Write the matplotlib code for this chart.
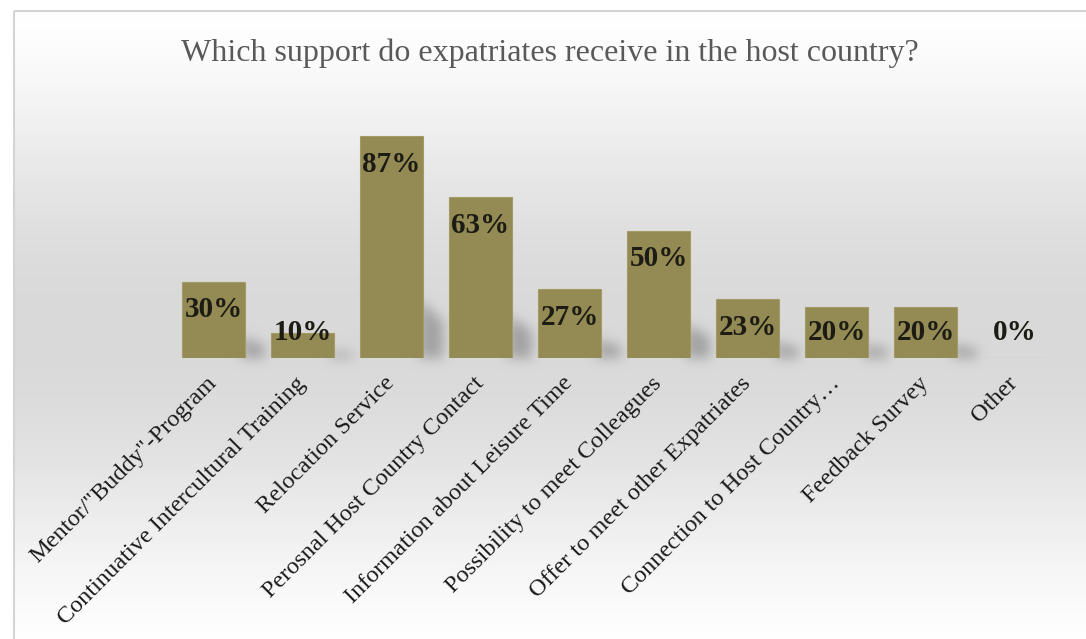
import numpy as np
import matplotlib
matplotlib.use("Agg")
import matplotlib.pyplot as plt
from matplotlib.patches import Rectangle

plt.rcParams['font.family'] = ['Liberation Serif', 'DejaVu Serif']

categories = ['Mentor/"Buddy"-Program', 'Continuative Intercultural Training',
              'Relocation Service', 'Perosnal Host Country Contact',
              'Information about Leisure Time', 'Possibility to meet Colleagues',
              'Offer to meet other Expatriates', 'Connection to Host Country\u2026',
              'Feedback Survey', 'Other']
percent = [30, 10, 87, 63, 27, 50, 23, 20, 20, 0]
title = 'Which support do expatriates receive in the host country?'

W, H = 1086, 639
bar_color = '#948a54'

fig = plt.figure(figsize=(W / 100, H / 100), dpi=100)
fig.patch.set_facecolor('white')

# background axes in pixel units
bg = fig.add_axes([0, 0, 1, 1], zorder=0)
bg.set_xlim(0, W)
bg.set_ylim(H, 0)
bg.axis('off')

ax = fig.add_axes([169 / W, (H - 358) / H, 890 / W, 255 / H], zorder=1)
ax.patch.set_alpha(0)
x = np.arange(len(categories))
ax.set_xlim(-0.5, len(categories) - 0.5)
ax.set_ylim(0, 100)

# vertical grey gradient inside the chart border
top, left = 10, 13
rows = np.arange(H)
t = np.clip((rows - top) / (650 - top), 0, 1)
grey = 255 - 38 * np.sin(np.pi * t) ** 1.5
img = np.tile(grey[:, None], (1, W)).astype(float)

# soft shadows cast to the right of each bar
mask = np.zeros((H, W))
bw = 0.71
for xi, v in zip(x, percent):
    if v <= 0:
        continue
    (xr, yb), = ax.transData.transform([(xi + bw / 2, 0)])
    (_, yt), = ax.transData.transform([(xi, v)])
    hpx = yt - yb
    rb = int(round(H - yb))
    c0, c1 = int(xr) - 4, int(xr) + 20
    for c in range(c0, c1):
        f = (c - c0) / (c1 - c0)
        hh = hpx * (0.26 - 0.1 * f)
        mask[int(rb - hh):rb, c] = 1.0

def blur(a, sigma):
    k = np.arange(-3 * sigma, 3 * sigma + 1)
    k = np.exp(-k ** 2 / (2 * sigma ** 2))
    k /= k.sum()
    a = np.apply_along_axis(lambda r: np.convolve(r, k, mode='same'), 1, a)
    a = np.apply_along_axis(lambda r: np.convolve(r, k, mode='same'), 0, a)
    return a

mask = blur(mask, 6)
img = img - 55 * mask
img[:top, :] = 255
img[:, :left] = 255
img = np.clip(img, 0, 255) / 255
bg.imshow(np.dstack([img] * 3), extent=[0, W, H, 0], aspect='auto', interpolation='bilinear')
bg.add_patch(Rectangle((left + 0.5, top + 0.5), W + 20, H + 20, fill=False,
                       ec='#d4d4d4', lw=1.5))

ax.bar(x, percent, width=bw, color=bar_color, edgecolor='#a39a66', linewidth=0.8, zorder=2)

for xi, v in zip(x, percent):
    ax.text(xi, max(v - 11, 10), f'{v}%', ha='center', va='center',
            fontsize=21, fontweight='bold', color='#1c1c14', zorder=3)

ax.set_xticks(x)
ax.set_xticklabels(categories, rotation=45, ha='right', va='center',
                   rotation_mode='anchor', fontsize=17.5, color='#1a1a1a')
ax.tick_params(axis='x', length=0, pad=16)
ax.set_yticks([])
for s in ax.spines.values():
    s.set_visible(False)

fig.text(550 / W, 1 - 53 / H, title, ha='center', va='center',
         fontsize=23, color='#595959')

fig.savefig('out.png', dpi=100)
